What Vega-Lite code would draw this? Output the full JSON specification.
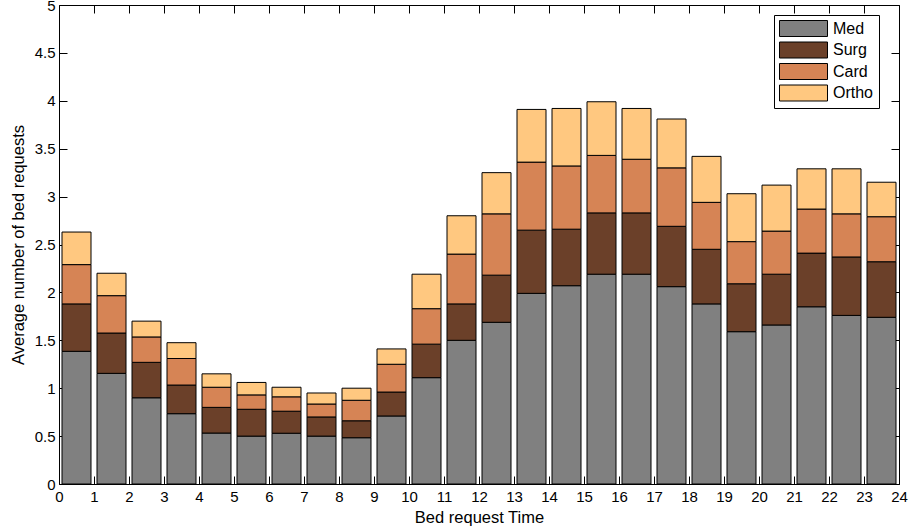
{
  "$schema": "https://vega.github.io/schema/vega-lite/v6.json",
  "width": 840,
  "height": 479,
  "autosize": {"type": "none"},
  "padding": {"left": 59, "top": 5, "right": 12, "bottom": 47},
  "background": "white",
  "config": {
    "view": {"stroke": "black", "strokeWidth": 1},
    "font": "Liberation Sans",
    "axis": {
      "grid": false,
      "domain": false,
      "tickColor": "black",
      "tickSize": -8,
      "tickWidth": 1,
      "labelColor": "black",
      "labelFont": "Liberation Sans",
      "labelFontSize": 15,
      "titleFont": "Liberation Sans",
      "titleFontSize": 16.5,
      "titleFontWeight": "normal",
      "titleColor": "black"
    }
  },
  "data": {
    "values": [
      {"t": 0.5, "s": "Med", "k": 1, "v": 1.385}, {"t": 0.5, "s": "Surg", "k": 2, "v": 0.495}, {"t": 0.5, "s": "Card", "k": 3, "v": 0.41}, {"t": 0.5, "s": "Ortho", "k": 4, "v": 0.34},
      {"t": 1.5, "s": "Med", "k": 1, "v": 1.155}, {"t": 1.5, "s": "Surg", "k": 2, "v": 0.421}, {"t": 1.5, "s": "Card", "k": 3, "v": 0.39}, {"t": 1.5, "s": "Ortho", "k": 4, "v": 0.234},
      {"t": 2.5, "s": "Med", "k": 1, "v": 0.9}, {"t": 2.5, "s": "Surg", "k": 2, "v": 0.37}, {"t": 2.5, "s": "Card", "k": 3, "v": 0.265}, {"t": 2.5, "s": "Ortho", "k": 4, "v": 0.165},
      {"t": 3.5, "s": "Med", "k": 1, "v": 0.734}, {"t": 3.5, "s": "Surg", "k": 2, "v": 0.299}, {"t": 3.5, "s": "Card", "k": 3, "v": 0.277}, {"t": 3.5, "s": "Ortho", "k": 4, "v": 0.165},
      {"t": 4.5, "s": "Med", "k": 1, "v": 0.532}, {"t": 4.5, "s": "Surg", "k": 2, "v": 0.268}, {"t": 4.5, "s": "Card", "k": 3, "v": 0.21}, {"t": 4.5, "s": "Ortho", "k": 4, "v": 0.14},
      {"t": 5.5, "s": "Med", "k": 1, "v": 0.5}, {"t": 5.5, "s": "Surg", "k": 2, "v": 0.28}, {"t": 5.5, "s": "Card", "k": 3, "v": 0.15}, {"t": 5.5, "s": "Ortho", "k": 4, "v": 0.13},
      {"t": 6.5, "s": "Med", "k": 1, "v": 0.53}, {"t": 6.5, "s": "Surg", "k": 2, "v": 0.23}, {"t": 6.5, "s": "Card", "k": 3, "v": 0.15}, {"t": 6.5, "s": "Ortho", "k": 4, "v": 0.1},
      {"t": 7.5, "s": "Med", "k": 1, "v": 0.5}, {"t": 7.5, "s": "Surg", "k": 2, "v": 0.2}, {"t": 7.5, "s": "Card", "k": 3, "v": 0.135}, {"t": 7.5, "s": "Ortho", "k": 4, "v": 0.115},
      {"t": 8.5, "s": "Med", "k": 1, "v": 0.483}, {"t": 8.5, "s": "Surg", "k": 2, "v": 0.177}, {"t": 8.5, "s": "Card", "k": 3, "v": 0.214}, {"t": 8.5, "s": "Ortho", "k": 4, "v": 0.126},
      {"t": 9.5, "s": "Med", "k": 1, "v": 0.71}, {"t": 9.5, "s": "Surg", "k": 2, "v": 0.25}, {"t": 9.5, "s": "Card", "k": 3, "v": 0.29}, {"t": 9.5, "s": "Ortho", "k": 4, "v": 0.16},
      {"t": 10.5, "s": "Med", "k": 1, "v": 1.11}, {"t": 10.5, "s": "Surg", "k": 2, "v": 0.35}, {"t": 10.5, "s": "Card", "k": 3, "v": 0.37}, {"t": 10.5, "s": "Ortho", "k": 4, "v": 0.36},
      {"t": 11.5, "s": "Med", "k": 1, "v": 1.5}, {"t": 11.5, "s": "Surg", "k": 2, "v": 0.38}, {"t": 11.5, "s": "Card", "k": 3, "v": 0.52}, {"t": 11.5, "s": "Ortho", "k": 4, "v": 0.4},
      {"t": 12.5, "s": "Med", "k": 1, "v": 1.688}, {"t": 12.5, "s": "Surg", "k": 2, "v": 0.492}, {"t": 12.5, "s": "Card", "k": 3, "v": 0.64}, {"t": 12.5, "s": "Ortho", "k": 4, "v": 0.43},
      {"t": 13.5, "s": "Med", "k": 1, "v": 1.99}, {"t": 13.5, "s": "Surg", "k": 2, "v": 0.66}, {"t": 13.5, "s": "Card", "k": 3, "v": 0.71}, {"t": 13.5, "s": "Ortho", "k": 4, "v": 0.55},
      {"t": 14.5, "s": "Med", "k": 1, "v": 2.07}, {"t": 14.5, "s": "Surg", "k": 2, "v": 0.59}, {"t": 14.5, "s": "Card", "k": 3, "v": 0.66}, {"t": 14.5, "s": "Ortho", "k": 4, "v": 0.6},
      {"t": 15.5, "s": "Med", "k": 1, "v": 2.19}, {"t": 15.5, "s": "Surg", "k": 2, "v": 0.64}, {"t": 15.5, "s": "Card", "k": 3, "v": 0.6}, {"t": 15.5, "s": "Ortho", "k": 4, "v": 0.56},
      {"t": 16.5, "s": "Med", "k": 1, "v": 2.19}, {"t": 16.5, "s": "Surg", "k": 2, "v": 0.64}, {"t": 16.5, "s": "Card", "k": 3, "v": 0.56}, {"t": 16.5, "s": "Ortho", "k": 4, "v": 0.53},
      {"t": 17.5, "s": "Med", "k": 1, "v": 2.06}, {"t": 17.5, "s": "Surg", "k": 2, "v": 0.63}, {"t": 17.5, "s": "Card", "k": 3, "v": 0.61}, {"t": 17.5, "s": "Ortho", "k": 4, "v": 0.51},
      {"t": 18.5, "s": "Med", "k": 1, "v": 1.88}, {"t": 18.5, "s": "Surg", "k": 2, "v": 0.57}, {"t": 18.5, "s": "Card", "k": 3, "v": 0.49}, {"t": 18.5, "s": "Ortho", "k": 4, "v": 0.48},
      {"t": 19.5, "s": "Med", "k": 1, "v": 1.59}, {"t": 19.5, "s": "Surg", "k": 2, "v": 0.5}, {"t": 19.5, "s": "Card", "k": 3, "v": 0.44}, {"t": 19.5, "s": "Ortho", "k": 4, "v": 0.5},
      {"t": 20.5, "s": "Med", "k": 1, "v": 1.66}, {"t": 20.5, "s": "Surg", "k": 2, "v": 0.53}, {"t": 20.5, "s": "Card", "k": 3, "v": 0.45}, {"t": 20.5, "s": "Ortho", "k": 4, "v": 0.48},
      {"t": 21.5, "s": "Med", "k": 1, "v": 1.85}, {"t": 21.5, "s": "Surg", "k": 2, "v": 0.56}, {"t": 21.5, "s": "Card", "k": 3, "v": 0.46}, {"t": 21.5, "s": "Ortho", "k": 4, "v": 0.42},
      {"t": 22.5, "s": "Med", "k": 1, "v": 1.76}, {"t": 22.5, "s": "Surg", "k": 2, "v": 0.61}, {"t": 22.5, "s": "Card", "k": 3, "v": 0.45}, {"t": 22.5, "s": "Ortho", "k": 4, "v": 0.47},
      {"t": 23.5, "s": "Med", "k": 1, "v": 1.74}, {"t": 23.5, "s": "Surg", "k": 2, "v": 0.58}, {"t": 23.5, "s": "Card", "k": 3, "v": 0.47}, {"t": 23.5, "s": "Ortho", "k": 4, "v": 0.36}
    ]
  },
  "layer": [
    {
      "mark": {"type": "bar", "size": 29, "stroke": "black", "strokeWidth": 1, "opacity": 1},
      "encoding": {
        "x": {
          "field": "t", "type": "quantitative",
          "scale": {"domain": [0, 24], "nice": false, "zero": false, "padding": 0},
          "axis": {"orient": "bottom", "values": [0,1,2,3,4,5,6,7,8,9,10,11,12,13,14,15,16,17,18,19,20,21,22,23,24], "labelPadding": 13, "title": "Bed request Time", "titlePadding": 5, "labelFlush": false}
        },
        "y": {
          "field": "v", "type": "quantitative", "stack": "zero",
          "scale": {"domain": [0, 5], "nice": false},
          "axis": {"orient": "left", "values": [0,0.5,1,1.5,2,2.5,3,3.5,4,4.5,5], "labelExpr": "datum.value", "labelPadding": 12, "title": "Average number of bed requests", "titlePadding": 8, "labelFlush": false}
        },
        "color": {
          "field": "s", "type": "nominal",
          "scale": {"domain": ["Med", "Surg", "Card", "Ortho"], "range": ["#808080", "#6B4029", "#D68455", "#FFC880"]},
          "legend": {
            "orient": "none", "legendX": 715, "legendY": 10, "title": null,
            "strokeColor": "black", "fillColor": "white", "padding": 5,
            "symbolType": "M-1,-1L5,-1L5,1L-1,1Z", "symbolSize": 256,
            "symbolStrokeColor": "black", "symbolStrokeWidth": 1, "symbolOpacity": 1,
            "labelFontSize": 16, "labelFont": "Liberation Sans", "labelColor": "black",
            "labelOffset": 37, "rowPadding": 0.5
          }
        },
        "order": {"field": "k", "type": "quantitative"}
      }
    },
    {
      "mark": {"type": "point", "opacity": 0},
      "encoding": {
        "x": {"field": "t", "type": "quantitative", "axis": {"orient": "top", "values": [0,1,2,3,4,5,6,7,8,9,10,11,12,13,14,15,16,17,18,19,20,21,22,23,24], "labels": false, "title": null}},
        "y": {"field": "v", "type": "quantitative", "axis": {"orient": "right", "values": [0,0.5,1,1.5,2,2.5,3,3.5,4,4.5,5], "labels": false, "title": null}}
      }
    }
  ],
  "resolve": {"axis": {"x": "independent", "y": "independent"}}
}
